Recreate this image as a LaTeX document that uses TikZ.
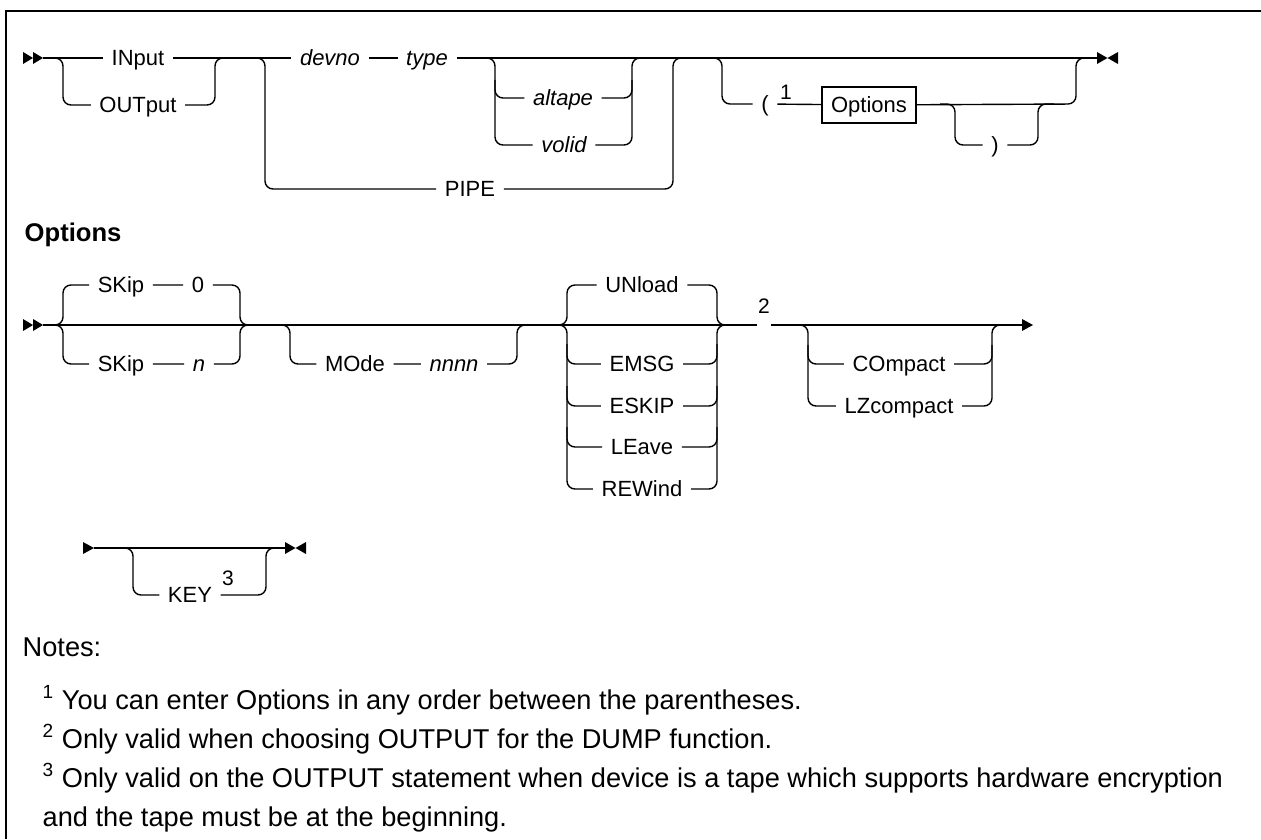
\documentclass[tikz,border=0pt]{standalone}
\usepackage{fontspec}
\setmainfont{Liberation Sans}
\usetikzlibrary{calc}

\tikzstyle{lb} = [inner xsep=4pt, inner ysep=0pt, text height=7.9pt, text depth=0pt, font=\fontsize{11}{13}\selectfont]
\tikzstyle{rr} = [rounded corners=4pt]
\tikzstyle{fnref} = [inner sep=0pt, font=\fontsize{10.5}{12}\selectfont]
\tikzstyle{note} = [anchor=base west, inner sep=0pt, font=\fontsize{13.6}{16}\selectfont]

\tikzset{
  pics/twohead/.style={code={
    \fill (0,-6) -- (10,0) -- (0,6) -- cycle;
    \fill (10,-6) -- (20,0) -- (10,6) -- cycle;}},
  pics/stophead/.style={code={
    \fill (0,-6) -- (10.5,0) -- (0,6) -- cycle;
    \fill (21,-6) -- (10.5,0) -- (21,6) -- cycle;}},
  pics/onehead/.style={code={\fill (0,-6) -- (11,0) -- (0,6) -- cycle;}}
}

\begin{document}
\begin{tikzpicture}[x=0.5pt,y=-0.5pt,line width=0.7pt]
\useasboundingbox (0,0) rectangle (1261,839);
\draw[line width=1.25pt] (6,839) -- (6,11) -- (1261,11);

% statement
\pic at (23,58) {twohead};
\node[lb] (inp) at (138,58) {INput};
\node[lb] (outp) at (138,105) {OUTput};
\node[lb] (devno) at (330,58) {\itshape devno};
\node[lb] (type) at (427,58) {\itshape type};
\node[lb] (altape) at (563,98) {\itshape altape};
\node[lb] (volid) at (564,145) {\itshape volid};
\node[lb] (pipe) at (470,189) {PIPE};
\node[lb] (lpar) at (765,104) {(};
\node[fnref] (fn1) at (786,92) {1};
\node[lb, draw, outer sep=0pt, minimum width=47pt, minimum height=18pt, inner xsep=2pt] (obox) at (869,105) {Options};
\node[lb] (rpar) at (995,145) {)};

\draw (43,58) -- (inp) -- (devno) -- (type) -- (1097,58);
\draw[rr] (47,58) -- (63,58) -- (63,105) -- (outp) -- (215,105) -- (215,58) -- (231,58);
\draw[rr] (250,58) -- (265,58) -- (265,189) -- (pipe) -- (673,189) -- (673,58) -- (689,58);
\draw[rr] (480,58) -- (495,58) -- (495,145) -- (volid) -- (632,145) -- (632,58) -- (648,58);
\draw[rr] (495,80) -- (495,98) -- (altape) -- (632,98) -- (632,80);
\draw[rr] (706,58) -- (722,58) -- (722,104) -- (lpar) -- (obox) -- (1076,104) -- (1076,58) -- (1092,58);
\draw[rr] (940,104) -- (955,104) -- (955,145) -- (rpar) -- (1038,145) -- (1038,104) -- (1054,104);
\pic at (1097,58) {stophead};

% options fragment
\node[anchor=west, inner sep=0pt, font=\bfseries\fontsize{12.8}{14}\selectfont] (opthd) at (24,235) {Options};
\pic at (23,325) {twohead};
\node[lb] (skipa) at (121,285) {SKip};
\node[lb] (zero) at (198,285) {0};
\node[lb] (skipb) at (121,364) {SKip};
\node[lb] (nvar) at (199,364) {\itshape n};
\node[lb] (mode) at (355,364) {MOde};
\node[lb] (nnnn) at (454,364) {\itshape nnnn};
\node[lb] (unl) at (642,285) {UNload};
\foreach \n/\t/\y in {emsg/EMSG/364, eskip/ESKIP/406, leave/LEave/447, rew/REWind/489}
  \node[lb] (\n) at (642,\y) {\t};
\node[inner sep=0pt, minimum width=6pt, minimum height=0pt,
  label={[fnref, label distance=5pt]above:2}] (fn2) at (764,325) {};
\node[lb] (comp) at (899,364) {COmpact};
\node[lb] (lzc) at (899,406) {LZcompact};

\draw (43,325) -- (fn2) -- (1022,325);
\pic at (1022,325) {onehead};
\draw[rr] (48,325) -- (63,325) -- (63,285) -- (skipa) -- (zero) -- (240,285) -- (240,325) -- (255,325);
\draw[rr] (48,325) -- (63,325) -- (63,364) -- (skipb) -- (nvar) -- (240,364) -- (240,325) -- (255,325);
\draw[rr] (275,325) -- (290,325) -- (290,364) -- (mode) -- (nnnn) -- (517,364) -- (517,325) -- (532,325);
\draw[rr] (552,325) -- (567,325) -- (567,285) -- (unl) -- (717,285) -- (717,325) -- (732,325);
\draw[rr] (552,325) -- (567,325) -- (567,489) -- (rew) -- (717,489) -- (717,325) -- (732,325);
\foreach \n/\y in {emsg/364, eskip/406, leave/447}
  \draw[rr] (567,\y-20) -- (567,\y) -- (\n) -- (717,\y) -- (717,\y-20);
\draw[rr] (793,325) -- (808,325) -- (808,406) -- (lzc) -- (992,406) -- (992,325) -- (1007,325);
\draw[rr] (808,345) -- (808,364) -- (comp) -- (992,364) -- (992,345);

% continuation
\pic at (83,548) {onehead};
\node[lb] (key) at (190,595) {KEY};
\node[fnref] (fn3) at (228,578) {3};
\draw (94,548) -- (285,548);
\draw[rr] (118,548) -- (133,548) -- (133,595) -- (key) -- (266,595) -- (266,548) -- (281,548);
\pic at (285,548) {stophead};

% notes
\node[note] (notes) at (22,656) {Notes:};
\node[note] (nt1) at (42,709) {\textsuperscript{1} You can enter Options in any order between the parentheses.};
\node[note] (nt2) at (42,748) {\textsuperscript{2} Only valid when choosing OUTPUT for the DUMP function.};
\node[note] (nt3) at (42,787) {\textsuperscript{3} Only valid on the OUTPUT statement when device is a tape which supports hardware encryption};
\node[note] (nt3b) at (42,826) {and the tape must be at the beginning.};

\end{tikzpicture}
\end{document}
